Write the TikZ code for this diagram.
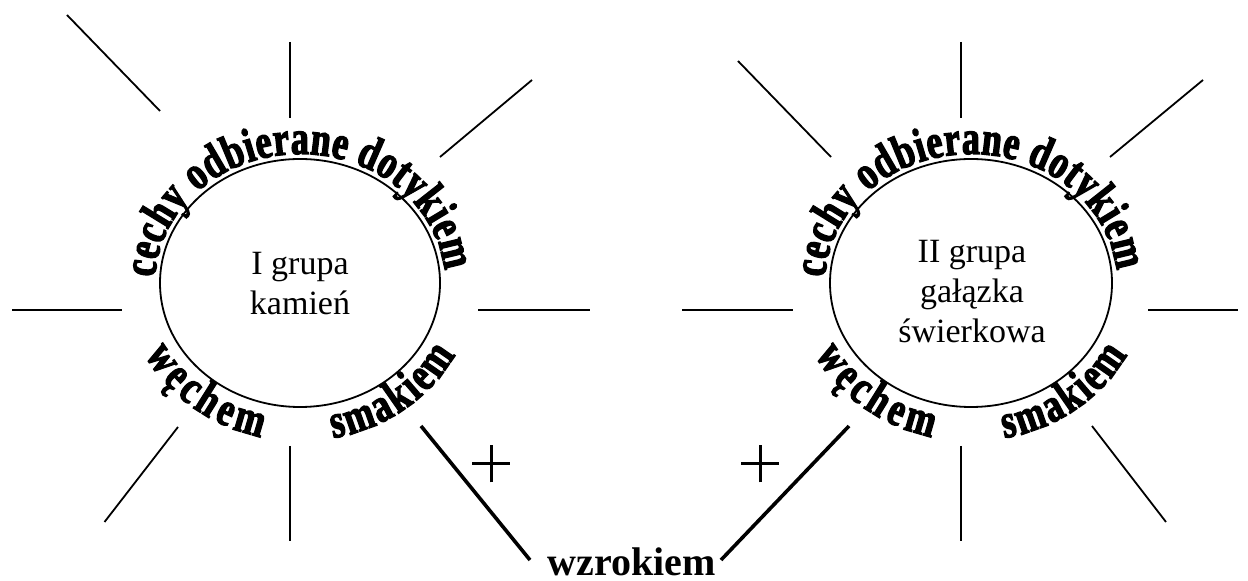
\documentclass[tikz,border=0pt]{standalone}
\usepackage{fontspec}
\setmainfont{Liberation Serif}
\newfontfamily\arcfont{Liberation Serif}[FakeStretch=0.75,FakeBold=2.5]
\usetikzlibrary{decorations.text}
\newcommand\arcfmt{\arcfont\bfseries\fontsize{48}{48}\selectfont}
\begin{document}
\begin{tikzpicture}[x=1pt,y=1pt,
  ray/.style={line width=1.8pt},
  thickray/.style={line width=3.6pt},
  plusmark/.style={line width=3pt},
  rim/.style={line width=1.8pt},
  innertext/.style={font=\fontsize{34}{40}\selectfont, inner sep=0pt, anchor=base},
  arctext/.style={decorate, decoration={text along path, text={|\arcfmt|#1}, text align={fit to path}}}
]
\useasboundingbox (0,0) rectangle (1248,581);

% ---------- left sun ----------
\coordinate (L) at (300,298);
\draw[rim] (L) ellipse [x radius=140, y radius=124];
\node[innertext] (l1) at (300,306) {I grupa};
\node[innertext] (l2) at (300,266) {kamień};

\path[arctext={cechy odbierane dotykiem}] (L) ++(177.5:145 and 129) arc[start angle=177.5, end angle=5.5, x radius=145, y radius=129];
\path[arctext={węchem}] (L) ++(207:174 and 158) arc[start angle=207, end angle=257, x radius=174, y radius=158];
\path[arctext={smakiem}] (L) ++(281:174 and 158) arc[start angle=281, end angle=333, x radius=174, y radius=158];

\draw[ray] (67,566) -- (160,470);
\draw[ray] (290,539) -- (290,463);
\draw[ray] (440,424) -- (532,501);
\draw[ray] (12,271) -- (122,271);
\draw[ray] (478,271) -- (590,271);
\draw[ray] (178,154) -- (104.5,59);
\draw[ray] (290,135) -- (290,40);

\coordinate (lplus) at (491,117);
\draw[plusmark] ([xshift=-19pt]lplus) -- ([xshift=19pt]lplus);
\draw[plusmark] ([yshift=-18.5pt]lplus) -- ([yshift=18.5pt]lplus);

% ---------- right sun ----------
\coordinate (R) at (971,298);
\draw[rim] (R) ellipse [x radius=141, y radius=124];
\node[innertext] (r1) at (972,318) {II grupa};
\node[innertext] (r2) at (972,278) {gałązka};
\node[innertext] (r3) at (972,238) {świerkowa};

\path[arctext={cechy odbierane dotykiem}] (R) ++(177.5:146 and 129) arc[start angle=177.5, end angle=5.5, x radius=146, y radius=129];
\path[arctext={węchem}] (R) ++(207:175 and 158) arc[start angle=207, end angle=257, x radius=175, y radius=158];
\path[arctext={smakiem}] (R) ++(281:175 and 158) arc[start angle=281, end angle=333, x radius=175, y radius=158];

\draw[ray] (738,520) -- (831,424);
\draw[ray] (961,539) -- (961,463);
\draw[ray] (1110,424) -- (1203,501);
\draw[ray] (682,271) -- (793,271);
\draw[ray] (1148,271) -- (1238,271);
\draw[ray] (961,135) -- (961,40);
\draw[ray] (1092,155) -- (1166,59);

\coordinate (rplus) at (760,117);
\draw[plusmark] ([xshift=-19pt]rplus) -- ([xshift=19pt]rplus);
\draw[plusmark] ([yshift=-18.5pt]rplus) -- ([yshift=18.5pt]rplus);

% ---------- wzrokiem ----------
\node[font=\bfseries\fontsize{40}{40}\selectfont, inner sep=0pt, anchor=base] (wz) at (631.5,5) {wzrokiem};
\coordinate (lthick) at (421,155);
\coordinate (lthickend) at (530,21);
\coordinate (rthick) at (849,155);
\coordinate (rthickend) at (721,21);
\draw[thickray] (lthick) -- (lthickend);
\draw[thickray] (rthick) -- (rthickend);
\end{tikzpicture}
\end{document}
